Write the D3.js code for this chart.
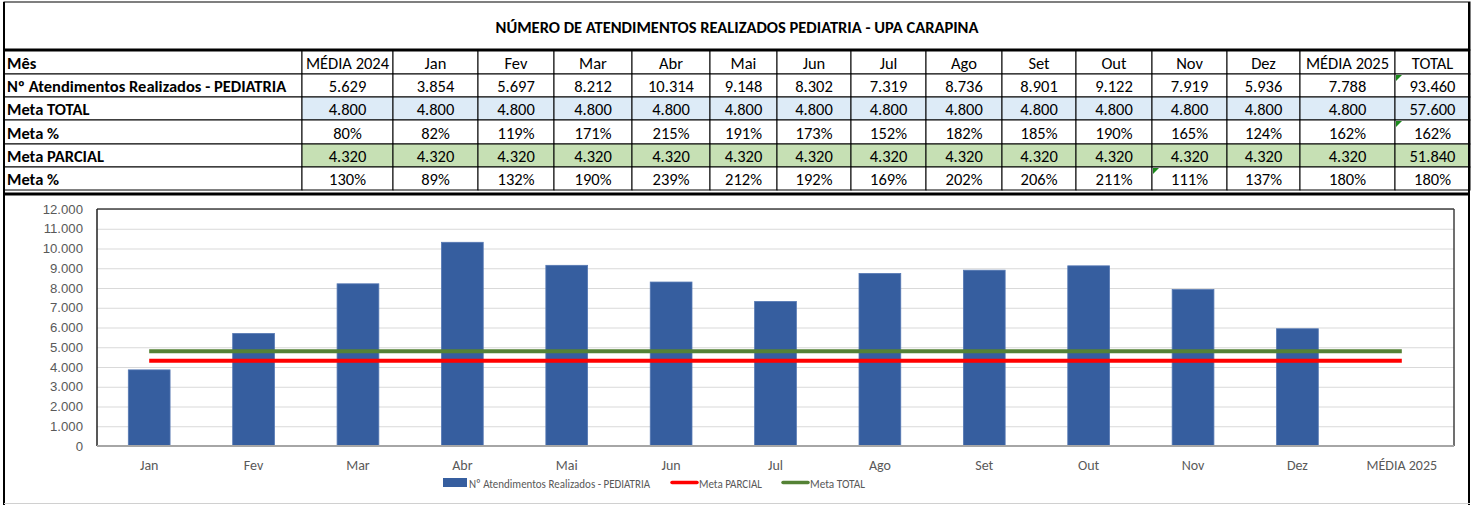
<!DOCTYPE html>
<meta charset="utf-8">
<style>
  body {
    margin: 0;
    background: #fff;
    font-family: Calibri, Carlito, Lato, sans-serif;
  }
  svg text { fill: #000; }
  .cell { font-size: 16.5px; }
  .lbl { font-size: 16.5px; font-weight: 700; }
  .axis text { font-size: 13.2px; fill: #595959; }
  .xlab { font-size: 14px; fill: #595959; }
  .leg { font-size: 13px; fill: #595959; }
</style>
<body>
<script src="https://cdnjs.cloudflare.com/ajax/libs/d3/7.8.5/d3.min.js"></script>
<script>
// ---- data read from the sheet ----
var title = "NÚMERO DE ATENDIMENTOS REALIZADOS PEDIATRIA - UPA CARAPINA";
var header = ["Mês", "MÉDIA 2024", "Jan", "Fev", "Mar", "Abr", "Mai", "Jun", "Jul", "Ago", "Set", "Out", "Nov", "Dez", "MÉDIA 2025", "TOTAL"];
var rowLabels = ["Nº Atendimentos Realizados - PEDIATRIA", "Meta TOTAL", "Meta %", "Meta PARCIAL", "Meta %"];

var months = ["Jan", "Fev", "Mar", "Abr", "Mai", "Jun", "Jul", "Ago", "Set", "Out", "Nov", "Dez"];
var atendimentos = [3854, 5697, 8212, 10314, 9148, 8302, 7319, 8736, 8901, 9122, 7919, 5936];
var media2024 = 5629, media2025 = 7788, totalAtend = 93460;
var metaTotal = [4800, 4800, 4800, 4800, 4800, 4800, 4800, 4800, 4800, 4800, 4800, 4800];
var metaTotalMedia24 = 4800, metaTotalMedia25 = 4800, metaTotalTotal = 57600;
var metaPct1 = [82, 119, 171, 215, 191, 173, 152, 182, 185, 190, 165, 124];
var metaPct1Media24 = 80, metaPct1Media25 = 162, metaPct1Total = 162;
var metaParcial = [4320, 4320, 4320, 4320, 4320, 4320, 4320, 4320, 4320, 4320, 4320, 4320];
var metaParcialMedia24 = 4320, metaParcialMedia25 = 4320, metaParcialTotal = 51840;
var metaPct2 = [89, 132, 190, 239, 212, 192, 169, 202, 206, 211, 111, 137];
var metaPct2Media24 = 130, metaPct2Media25 = 180, metaPct2Total = 180;

// chart categories (MÉDIA 2025 has no bar, only the goal lines)
var chartCats = months.concat(["MÉDIA 2025"]);
var chartBars = atendimentos.concat([null]);
var chartParcial = metaParcial.concat([metaParcialMedia25]);
var chartTotal = metaTotal.concat([metaTotalMedia25]);
var yTicks = [0, 1000, 2000, 3000, 4000, 5000, 6000, 7000, 8000, 9000, 10000, 11000, 12000];

// ---- layout ----
var W = 1475, H = 505;
var colX = [4, 302, 393, 478, 554, 632, 710, 777, 851, 926, 1002, 1076, 1152, 1227, 1300, 1395, 1470];
var rowY = [50, 74, 97, 120, 144, 167, 190];

var br = d3.formatLocale({ decimal: ",", thousands: ".", grouping: [3], currency: ["R$", ""] });
var fmtN = br.format(",d");
var fmtP = function (v) { return v + "%"; };

var svg = d3.select("body").append("svg").attr("width", W).attr("height", H);

// title box
svg.append("rect").attr("x", 4).attr("y", 2).attr("width", 1466).attr("height", 48)
  .attr("fill", "#fff").attr("stroke", "#000").attr("stroke-width", 1);
svg.append("text").attr("x", 737).attr("y", 33).attr("text-anchor", "middle")
  .style("font-size", "16.5px").style("font-weight", 700).text(title);

// table rows
var rows = [
  { label: header[0], vals: header.slice(1), fmt: String, fill: "#fff", header: true },
  { label: rowLabels[0], vals: [media2024].concat(atendimentos, [media2025, totalAtend]), fmt: fmtN, fill: "#fff" },
  { label: rowLabels[1], vals: [metaTotalMedia24].concat(metaTotal, [metaTotalMedia25, metaTotalTotal]), fmt: fmtN, fill: "#DDEBF7" },
  { label: rowLabels[2], vals: [metaPct1Media24].concat(metaPct1, [metaPct1Media25, metaPct1Total]), fmt: fmtP, fill: "#fff" },
  { label: rowLabels[3], vals: [metaParcialMedia24].concat(metaParcial, [metaParcialMedia25, metaParcialTotal]), fmt: fmtN, fill: "#C6E0B4" },
  { label: rowLabels[4], vals: [metaPct2Media24].concat(metaPct2, [metaPct2Media25, metaPct2Total]), fmt: fmtP, fill: "#fff" }
];

var table = svg.append("g");
rows.forEach(function (r, i) {
  var y0 = rowY[i], y1 = rowY[i + 1];
  table.append("rect").attr("x", colX[0]).attr("y", y0).attr("width", colX[1] - colX[0]).attr("height", y1 - y0)
    .attr("fill", "#fff").attr("stroke", "#000").attr("stroke-width", 1);
  table.append("text").attr("class", "lbl").attr("x", colX[0] + 3).attr("y", y1 - 5.5).text(r.label);
  r.vals.forEach(function (v, j) {
    var x0 = colX[j + 1], x1 = colX[j + 2];
    table.append("rect").attr("x", x0).attr("y", y0).attr("width", x1 - x0).attr("height", y1 - y0)
      .attr("fill", r.fill).attr("stroke", "#000").attr("stroke-width", 1);
    table.append("text").attr("class", "cell").attr("x", (x0 + x1) / 2).attr("y", y1 - 5.5)
      .attr("text-anchor", "middle").text(r.fmt(v));
  });
});

// little green error marks
[[15, 1], [15, 3], [12, 5]].forEach(function (m) {
  var x = colX[m[0]] + 1, y = rowY[m[1]] + 1;
  table.append("path").attr("d", "M" + x + "," + y + "h6l-6,6z").attr("fill", "#1a8a1a");
});

// heavy borders
svg.append("line").attr("x1", 4).attr("x2", 1470).attr("y1", 50).attr("y2", 50).attr("stroke", "#000").attr("stroke-width", 3);
svg.append("line").attr("x1", 4).attr("x2", 1470).attr("y1", 194).attr("y2", 194).attr("stroke", "#000").attr("stroke-width", 3);
svg.append("line").attr("x1", 4).attr("x2", 4).attr("y1", 2).attr("y2", 505).attr("stroke", "#000").attr("stroke-width", 2);
svg.append("line").attr("x1", 1469).attr("x2", 1469).attr("y1", 2).attr("y2", 505).attr("stroke", "#000").attr("stroke-width", 2);
svg.append("line").attr("x1", 4).attr("x2", 1470).attr("y1", 503.5).attr("y2", 503.5).attr("stroke", "#d0d0d0").attr("stroke-width", 1);

// ---- chart ----
var plot = { left: 97, right: 1454, top: 209, bottom: 446 };

var x = d3.scaleBand().domain(chartCats).range([plot.left, plot.right]).paddingInner(0.6).paddingOuter(0.3);
var xc = function (c) { return x(c) + x.bandwidth() / 2; };
var y = d3.scaleLinear().domain([0, 12000]).range([plot.bottom, plot.top]);

var g = svg.append("g");

// grid
g.selectAll(".grid").data(yTicks.slice(1)).enter().append("line")
  .attr("x1", plot.left).attr("x2", plot.right)
  .attr("y1", function (d) { return y(d) + 0.5; }).attr("y2", function (d) { return y(d) + 0.5; })
  .attr("stroke", "#d9d9d9").attr("stroke-width", 1);

// y axis labels
var yAxis = d3.axisLeft(y).tickValues(yTicks).tickSize(0).tickPadding(14).tickFormat(fmtN);
g.append("g").attr("class", "axis").attr("transform", "translate(" + plot.left + ",0)").call(yAxis)
  .call(function (s) { s.select(".domain").remove(); });

// bars
g.selectAll(".bar").data(chartCats.filter(function (c, i) { return chartBars[i] != null; })).enter().append("rect")
  .attr("x", function (c) { return x(c); })
  .attr("width", x.bandwidth())
  .attr("y", function (c) { return y(chartBars[chartCats.indexOf(c)]); })
  .attr("height", function (c) { return plot.bottom - y(chartBars[chartCats.indexOf(c)]); })
  .attr("fill", "#365E9F").attr("stroke", "#5578b3").attr("stroke-width", 0.8);

// goal lines
var line = d3.line().x(function (d, i) { return xc(chartCats[i]); }).y(function (d) { return y(d); });
g.append("path").datum(chartParcial).attr("d", line).attr("fill", "none").attr("stroke", "#FF0000").attr("stroke-width", 4);
g.append("path").datum(chartTotal).attr("d", line).attr("fill", "none").attr("stroke", "#548235").attr("stroke-width", 4);

// plot frame
g.append("line").attr("x1", plot.left).attr("x2", plot.right).attr("y1", plot.top).attr("y2", plot.top).attr("stroke", "#404040").attr("stroke-width", 1.5);
g.append("line").attr("x1", plot.left).attr("x2", plot.left).attr("y1", plot.top).attr("y2", plot.bottom).attr("stroke", "#202020").attr("stroke-width", 1.5);
g.append("line").attr("x1", plot.right).attr("x2", plot.right).attr("y1", plot.top).attr("y2", plot.bottom).attr("stroke", "#404040").attr("stroke-width", 1.5);
g.append("line").attr("x1", plot.left).attr("x2", plot.right).attr("y1", plot.bottom).attr("y2", plot.bottom).attr("stroke", "#a6a6a6").attr("stroke-width", 2);

// x labels
g.selectAll(".xlab").data(chartCats).enter().append("text").attr("class", "xlab")
  .attr("x", function (c) { return xc(c); }).attr("y", 470).attr("text-anchor", "middle").text(function (c) { return c; });

// legend (text is condensed in the original)
var leg = svg.append("g");
leg.append("rect").attr("x", 443).attr("y", 478).attr("width", 24).attr("height", 9).attr("fill", "#365E9F");
leg.append("text").attr("class", "leg").attr("x", 469).attr("y", 487.5)
  .attr("textLength", 181).attr("lengthAdjust", "spacingAndGlyphs").text(rowLabels[0]);
leg.append("line").attr("x1", 672).attr("x2", 697).attr("y1", 482.5).attr("y2", 482.5).attr("stroke", "#FF0000").attr("stroke-width", 3.5).attr("stroke-linecap", "round");
leg.append("text").attr("class", "leg").attr("x", 699).attr("y", 487.5)
  .attr("textLength", 63).attr("lengthAdjust", "spacingAndGlyphs").text("Meta PARCIAL");
leg.append("line").attr("x1", 783).attr("x2", 808).attr("y1", 482.5).attr("y2", 482.5).attr("stroke", "#548235").attr("stroke-width", 3.5).attr("stroke-linecap", "round");
leg.append("text").attr("class", "leg").attr("x", 810).attr("y", 487.5)
  .attr("textLength", 55).attr("lengthAdjust", "spacingAndGlyphs").text("Meta TOTAL");
</script>
</body>
